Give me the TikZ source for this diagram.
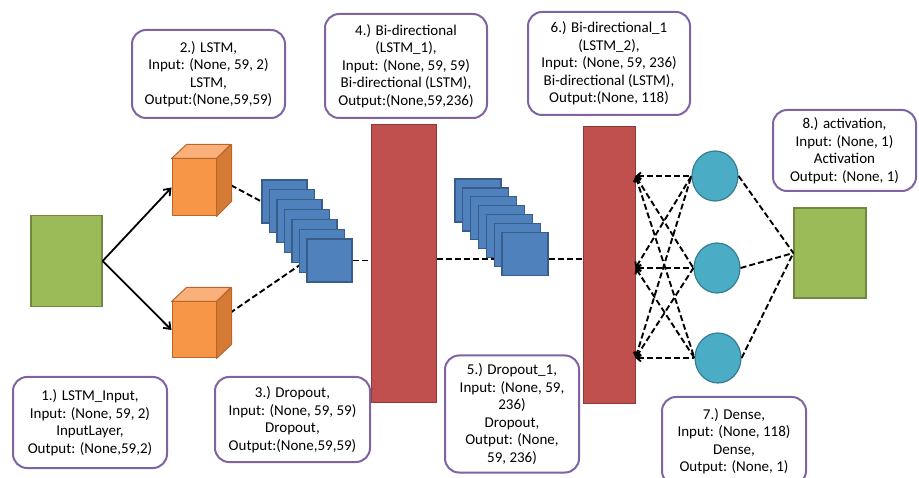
\documentclass[tikz,border=0pt]{standalone}
\usepackage{fontspec}
\setmainfont{Carlito}
\usetikzlibrary{shapes.geometric,backgrounds,arrows.meta}
\definecolor{boxpurple}{HTML}{8064A2}
\definecolor{ingreen}{HTML}{9BBB59}
\definecolor{ingreenD}{HTML}{71893F}
\definecolor{cubefront}{HTML}{F79646}
\definecolor{cubetop}{HTML}{FAB07A}
\definecolor{cubeside}{HTML}{D67B36}
\definecolor{cubeline}{HTML}{B8672A}
\definecolor{sqblue}{HTML}{4F81BD}
\definecolor{sqblueD}{HTML}{385D8A}
\definecolor{barred}{HTML}{C0504D}
\definecolor{barredD}{HTML}{8C3836}
\definecolor{dteal}{HTML}{4BACC6}
\definecolor{dtealD}{HTML}{357D91}
\begin{document}
\begin{tikzpicture}[
      x=1pt, y=-1pt,
      info/.style={draw=boxpurple, line width=2pt, rounded corners=14pt,
                   fill=white, align=center, inner sep=0pt,
                   font=\fontsize{15}{17.5}\selectfont},
      greenbox/.style={draw=ingreenD, fill=ingreen, line width=1.3pt,
                       minimum width=71pt, minimum height=91pt, inner sep=0pt},
      cubeface/.style={draw=cubeline, line width=1pt, line join=round},
      sq/.style={draw=sqblueD, fill=sqblue, line width=1.2pt, inner sep=0pt},
      bar/.style={draw=barredD, fill=barred, line width=1pt, inner sep=0pt},
      dense/.style={ellipse, draw=dtealD, fill=dteal, line width=1.2pt,
                    minimum width=46pt, minimum height=50pt, inner sep=0pt},
      link/.style={line width=1.8pt, -{Straight Barb[length=6pt,width=9pt]}},
      dline/.style={line width=1.9pt, dash pattern=on 6pt off 3pt}
    ]
      \useasboundingbox (0,0) rectangle (919,478);

      % input and output layers
      \node[greenbox] (inp) at (66.5,261) {};
      \node[greenbox, minimum width=72pt, minimum height=90pt] (outp) at (830,253) {};

      % LSTM cubes
      \node[cubeface, fill=cubefront, minimum width=44pt, minimum height=57pt,
            inner sep=0pt] (cubeA) at (194,187.5) {};
      \node[cubeface, fill=cubefront, minimum width=44pt, minimum height=56pt,
            inner sep=0pt] (cubeB) at (194,330) {};
      \foreach \c in {cubeA,cubeB} {
        \draw[cubeface, fill=cubetop] (\c.north west) -- ++(15,-14) -- ++(44,0)
          -- (\c.north east) -- cycle;
        \draw[cubeface, fill=cubeside] (\c.north east) -- ++(15,-14) -- ++(0,57)
          -- (\c.south east) -- cycle;
      }
      \coordinate (cubeAout) at (223,181);
      \coordinate (cubeBout) at (230,313);

      % dropout stacks
      \foreach \k in {1,...,7} {
        \node[sq, minimum width=45pt, minimum height=43pt]
          (sqA\k) at (284.5+7.5*\k-7.5, 201.5+9.83*\k-9.83) {};
      }
      \foreach \k in {1,...,7} {
        \node[sq, minimum width=46pt, minimum height=43pt]
          (sqB\k) at (478+7.83*\k-7.83, 200.5+8.92*\k-8.92) {};
      }

      % bi-directional layers
      \node[bar, minimum width=65pt, minimum height=278pt] (barA) at (403.5,264) {};
      \node[bar, minimum width=52pt, minimum height=277pt] (barB) at (609,265.5) {};

      % dense units
      \node[dense] (dnA) at (715,176) {};
      \node[dense] (dnB) at (717,268) {};
      \node[dense] (dnC) at (718,358) {};

      % connectors
      \draw[link] (inp.east) -- (cubeA.west);
      \draw[link] (inp.east) -- (cubeB.west);
      \begin{scope}[on background layer]
        \draw[dline] (cubeAout) -- (sqA1.west);
        \draw[dline] (cubeBout) -- (sqA7.west);
        \draw[dline] ([yshift=-5pt]barA.east |- sqB7.west) -- ([yshift=-5pt]sqB7.west);
      \end{scope}
      \draw[dline] (sqA7.east) -- (barA.west |- sqA7.east);
      \draw[dline] ([yshift=-5pt]sqB7.east) -- ([yshift=-5pt]barB.west |- sqB7.east);
      \foreach \i in {A,B,C} {
        \coordinate (bar\i) at (barB.east |- dn\i.west);
      }
      \foreach \i in {A,B,C} {
        \foreach \j in {A,B,C} {
          \draw[dline, {Straight Barb[length=4pt,width=7pt]}-] (bar\i) -- (dn\j.west);
        }
        \draw[dline] (dn\i.east) -- (outp.west);
      }

      % layer descriptions
      \node[info, minimum width=154pt, minimum height=91pt] (tInp) at (90,422.5)
        {1.) LSTM\_Input,\\Input: (None, 59, 2)\\InputLayer,\\Output: (None,59,2)};
      \node[info, minimum width=153pt, minimum height=88pt] (tLstm) at (208.5,74)
        {2.) LSTM,\\Input: (None, 59, 2)\\LSTM,\\Output:(None,59,59)};
      \node[info, minimum width=155pt, minimum height=85pt] (tDrop) at (292.5,419.5)
        {3.) Dropout,\\Input: (None, 59, 59)\\Dropout,\\Output:(None,59,59)};
      \node[info, minimum width=162pt, minimum height=104pt] (tBiA) at (406,66)
        {4.) Bi-directional\\(LSTM\_1),\\Input: (None, 59, 59)\\Bi-directional (LSTM),\\Output:(None,59,236)};
      \node[info, minimum width=134pt, minimum height=117pt] (tDropB) at (512,414)
        {5.) Dropout\_1,\\Input: (None, 59,\\236)\\Dropout,\\Output: (None,\\59, 236)};
      \node[info, minimum width=162pt, minimum height=103pt] (tBiB) at (609,63.5)
        {6.) Bi-directional\_1\\(LSTM\_2),\\Input: (None, 59, 236)\\Bi-directional (LSTM),\\Output:(None, 118)};
      \node[info, minimum width=144pt, minimum height=88pt] (tDense) at (734,441)
        {7.) Dense,\\Input: (None, 118)\\Dense,\\Output: (None, 1)};
      \node[info, minimum width=143pt, minimum height=81pt] (tAct) at (844.5,150.5)
        {8.) activation,\\Input: (None, 1)\\Activation\\Output: (None, 1)};
    \end{tikzpicture}
\end{document}
